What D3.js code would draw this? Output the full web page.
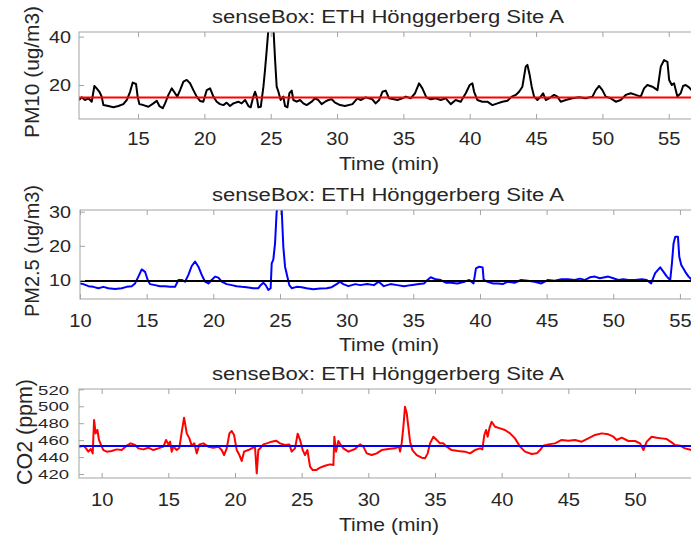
<!DOCTYPE html>
<html>
<head>
<meta charset="utf-8">
<script src="https://cdn.jsdelivr.net/npm/d3@7"></script>
<style>
  body { margin: 0; background: #fff; }
  text { font-family: "Liberation Sans", Arial, Helvetica, sans-serif; fill: #262626; }
</style>
</head>
<body>
<svg id="chart" width="691" height="539"></svg>
<script>
/* Values: [time (min), value] */
var pm10Series = [[10.55,13.8],[10.75,14.9],[11.0,13.8],[11.26,14.5],[11.51,13.1],[11.71,19.6],[11.88,18.6],[12.09,17.2],[12.26,15.2],[12.39,11.7],[12.76,11.3],[13.14,10.8],[13.52,11.3],[13.89,12.1],[14.15,13.8],[14.40,17.2],[14.60,21.0],[14.85,20.4],[14.97,15.2],[15.10,12.1],[15.40,11.7],[15.78,11.0],[16.16,12.4],[16.41,13.5],[16.61,11.3],[16.86,10.4],[17.04,12.4],[17.29,15.9],[17.54,18.6],[17.79,16.6],[17.96,15.2],[18.17,17.9],[18.42,21.4],[18.67,22.1],[18.92,20.7],[19.17,17.9],[19.42,15.2],[19.67,13.4],[19.92,13.1],[20.18,17.9],[20.43,18.6],[20.68,15.2],[20.93,13.1],[21.18,12.1],[21.43,11.7],[21.68,12.7],[21.93,11.3],[22.19,12.4],[22.56,13.1],[22.81,12.4],[23.07,13.8],[23.32,11.3],[23.49,10.8],[23.69,15.2],[23.82,17.2],[23.94,15.2],[24.07,10.8],[24.25,11.0],[24.45,19.3],[24.57,26.2],[24.70,34.5],[24.82,42.7],[25.0,48.0],[25.20,44.0],[25.33,30.3],[25.45,19.3],[25.58,17.2],[25.75,13.8],[25.95,15.2],[26.08,11.3],[26.26,10.8],[26.41,16.6],[26.58,17.7],[26.71,13.8],[26.96,13.1],[27.21,13.8],[27.46,12.4],[27.71,11.7],[28.09,13.1],[28.34,14.5],[28.59,13.8],[28.84,12.1],[29.10,13.1],[29.35,13.8],[29.60,14.1],[29.85,12.7],[30.23,11.7],[30.60,11.3],[31.16,12.1],[31.53,14.5],[31.78,13.8],[32.16,14.9],[32.66,14.1],[32.91,12.4],[33.17,13.8],[33.42,17.2],[33.67,17.7],[33.92,14.5],[34.30,14.1],[34.55,13.8],[34.92,14.5],[35.18,15.2],[35.55,14.5],[35.88,16.6],[36.18,20.7],[36.43,18.6],[36.73,14.9],[37.06,14.1],[37.44,14.5],[37.81,13.8],[38.19,14.5],[38.57,12.1],[38.94,13.8],[39.32,13.1],[39.70,16.6],[40.00,20.0],[40.20,20.7],[40.33,17.2],[40.58,13.8],[40.95,13.1],[41.33,13.1],[41.71,11.7],[42.09,12.4],[42.46,13.1],[42.84,13.5],[43.17,15.2],[43.47,15.9],[43.72,17.2],[43.97,19.3],[44.22,27.6],[44.35,28.3],[44.52,24.1],[44.67,19.3],[44.85,15.2],[45.10,13.8],[45.35,15.2],[45.53,16.6],[45.73,13.8],[45.98,14.5],[46.36,15.9],[46.61,15.2],[46.86,13.1],[47.24,13.8],[47.74,14.5],[48.24,14.9],[48.74,14.5],[49.25,15.2],[49.50,17.9],[49.75,19.6],[50.00,17.9],[50.25,15.2],[50.63,14.5],[51.01,13.1],[51.38,13.8],[51.76,15.9],[52.14,16.6],[52.51,15.9],[52.89,15.2],[53.14,18.6],[53.39,20.0],[53.77,19.3],[54.15,17.9],[54.40,27.6],[54.65,30.3],[54.90,29.6],[55.03,22.1],[55.23,20.0],[55.40,20.7],[55.65,15.2],[55.90,16.6],[56.08,19.6],[56.28,20.0],[56.53,19.0],[57.10,15.5]];
var pm10Mean = 14.8;

var pm25Series = [[10.0,9.0],[10.25,8.8],[10.63,8.2],[11.0,8.0],[11.38,7.6],[11.75,8.0],[12.13,7.6],[12.63,7.4],[13.13,7.6],[13.5,8.0],[13.88,8.2],[14.13,9.0],[14.38,11.0],[14.63,13.1],[14.88,12.4],[15.08,10.0],[15.25,8.8],[15.63,8.5],[16.0,8.2],[16.38,8.2],[16.75,8.0],[17.13,8.0],[17.38,10.0],[17.63,10.0],[17.88,9.5],[18.13,11.5],[18.38,14.1],[18.63,15.4],[18.88,13.9],[19.13,11.5],[19.38,9.5],[19.63,9.0],[19.88,10.0],[20.13,11.0],[20.38,10.7],[20.63,9.5],[21.0,8.8],[21.38,8.5],[21.75,8.2],[22.13,8.0],[22.5,7.9],[23.0,7.6],[23.38,7.6],[23.55,8.5],[23.75,9.2],[23.93,8.5],[24.13,7.1],[24.3,7.6],[24.38,14.9],[24.5,16.0],[24.63,20.7],[24.75,30.0],[24.95,33.0],[25.13,30.5],[25.25,19.8],[25.38,13.9],[25.55,11.0],[25.7,8.5],[25.88,7.6],[26.25,8.0],[26.63,7.9],[27.0,7.6],[27.5,7.3],[28.0,7.5],[28.5,7.6],[28.88,7.9],[29.25,8.8],[29.5,9.5],[29.75,8.8],[30.13,8.2],[30.65,8.8],[31.03,8.5],[31.53,8.8],[32.04,8.5],[32.41,9.5],[32.79,8.2],[33.29,8.8],[33.79,8.5],[34.3,8.2],[34.8,8.5],[35.43,8.8],[35.8,9.0],[36.06,10.0],[36.31,10.8],[36.68,10.2],[37.06,10.0],[37.44,9.2],[37.81,9.2],[38.32,9.0],[38.82,9.5],[39.2,10.0],[39.52,9.0],[39.7,13.4],[39.95,13.9],[40.2,13.7],[40.28,10.0],[40.58,9.5],[40.95,9.0],[41.33,9.0],[41.71,8.8],[42.09,9.5],[42.59,9.2],[43.09,10.0],[43.59,9.8],[44.1,9.5],[44.6,9.0],[45.1,10.0],[45.6,9.8],[46.11,10.2],[46.61,10.2],[47.11,10.0],[47.49,10.4],[47.86,10.0],[48.24,10.8],[48.62,11.0],[48.99,10.5],[49.37,10.8],[49.62,11.0],[50.0,10.5],[50.38,10.0],[50.75,10.2],[51.13,10.0],[51.63,10.0],[52.14,10.2],[52.51,10.0],[52.84,9.0],[53.14,12.0],[53.52,13.7],[53.77,12.4],[54.02,11.0],[54.27,10.0],[54.4,14.9],[54.52,20.7],[54.65,22.7],[54.85,22.7],[54.95,16.8],[55.1,14.4],[55.4,12.4],[55.65,11.0],[55.9,10.0],[56.4,9.8]];
var pm25Mean = 9.7;

var co2Series = [[8.30,452.3],[8.63,453.5],[8.83,450.3],[9.0,446.4],[9.18,449.5],[9.33,444.4],[9.43,483.8],[9.55,468.0],[9.68,472.0],[9.8,460.2],[9.95,454.3],[10.13,448.3],[10.38,446.4],[10.75,447.2],[11.13,449.1],[11.5,448.3],[11.88,453.5],[12.18,456.2],[12.5,454.3],[12.75,450.3],[13.13,449.1],[13.5,451.1],[13.88,448.3],[14.25,450.3],[14.63,452.3],[14.83,460.2],[15.0,455.0],[15.13,458.2],[15.25,446.4],[15.38,452.3],[15.63,448.3],[15.83,451.1],[16.0,469.2],[16.18,486.5],[16.38,468.0],[16.58,462.1],[16.75,453.5],[16.95,456.2],[17.13,444.4],[17.33,455.0],[17.63,456.2],[18.0,452.3],[18.38,451.1],[18.75,452.3],[19.0,448.3],[19.18,442.4],[19.38,450.3],[19.58,468.0],[19.75,470.8],[19.93,466.1],[20.13,448.3],[20.33,442.4],[20.5,435.4],[20.68,446.4],[21.0,448.3],[21.25,450.3],[21.5,452.3],[21.63,420.8],[21.75,448.3],[21.93,451.1],[22.13,455.0],[22.38,456.2],[22.75,458.2],[23.08,459.4],[23.38,456.2],[23.75,454.3],[24.08,455.0],[24.25,446.4],[24.5,450.3],[24.7,467.6],[24.88,460.2],[25.08,448.3],[25.25,442.4],[25.43,448.3],[25.63,428.7],[25.83,424.7],[26.08,424.7],[26.38,427.5],[26.75,429.8],[27.13,431.4],[27.38,430.6],[27.45,464.1],[27.58,446.4],[27.75,459.0],[27.93,454.3],[28.13,450.3],[28.5,446.4],[29.0,449.5],[29.38,455.0],[29.63,452.3],[29.88,444.4],[30.25,442.4],[30.63,444.4],[31.0,448.3],[31.5,449.5],[32.0,450.3],[32.3,452.3],[32.38,446.4],[32.5,456.2],[32.63,475.9],[32.75,499.5],[32.88,491.7],[33.0,475.9],[33.13,458.2],[33.3,448.3],[33.63,442.4],[34.0,439.3],[34.25,438.5],[34.45,444.4],[34.63,456.2],[34.88,464.1],[35.13,460.2],[35.38,456.2],[35.63,456.2],[35.88,452.3],[36.25,448.3],[36.75,447.2],[37.25,446.4],[37.63,444.4],[38.0,448.3],[38.38,450.3],[38.55,449.1],[38.7,466.1],[38.83,472.0],[38.95,464.1],[39.08,473.9],[39.25,481.8],[39.5,475.9],[39.88,473.9],[40.25,472.0],[40.63,468.0],[41.0,462.1],[41.38,452.3],[41.75,446.4],[42.25,443.6],[42.63,444.4],[42.88,448.3],[43.13,453.5],[43.5,455.0],[44.0,456.2],[44.5,460.2],[45.0,459.4],[45.5,460.2],[46.0,458.2],[46.5,462.1],[47.0,466.1],[47.5,468.0],[48.0,466.9],[48.38,464.1],[48.63,460.2],[49.0,462.9],[49.5,459.0],[50.0,459.0],[50.38,456.2],[50.63,448.3],[50.88,458.2],[51.25,464.1],[51.63,462.9],[52.0,462.1],[52.38,461.3],[52.75,457.4],[53.0,454.3],[53.38,453.5],[53.75,450.3],[54.25,448.3],[54.8,446.5]];
var co2Mean = 453.1;

// tick values
var pm10XTicks = [15, 20, 25, 30, 35, 40, 45, 50, 55];
var pm10YTicks = [20, 40];
var pm25XTicks = [10, 15, 20, 25, 30, 35, 40, 45, 50, 55];
var pm25YTicks = [10, 20, 30];
var co2XTicks = [10, 15, 20, 25, 30, 35, 40, 45, 50];
var co2YTicks = [420, 440, 460, 480, 500, 520];

var titleText = "senseBox: ETH Hönggerberg Site A";
var xLabelText = "Time (min)";

var axisGray = "#a3a3a3";
var svg = d3.select("#chart");
var defs = svg.append("defs");

/* Draw one MATLAB-style panel */
function drawPanel(p) {
    var x = d3.scaleLinear().domain(p.xDomain).range([p.left, p.right]);
    var y = d3.scaleLinear().domain(p.yDomain).range([p.bottom, p.top]);
    var g = svg.append("g").attr("class", "panel");

    defs.append("clipPath").attr("id", p.id + "-clip")
        .append("rect")
        .attr("x", p.left).attr("y", p.top)
        .attr("width", p.right - p.left).attr("height", p.bottom - p.top);

    // data line + mean line
    var plot = g.append("g").attr("clip-path", "url(#" + p.id + "-clip)");
    var line = d3.line().x(d => x(d[0])).y(d => y(d[1]));
    plot.append("path")
        .datum(p.series)
        .attr("d", line)
        .attr("fill", "none")
        .attr("stroke", p.color)
        .attr("stroke-width", 2)
        .attr("stroke-linejoin", "round");
    plot.append("line")
        .attr("x1", p.left).attr("x2", p.right)
        .attr("y1", y(p.mean)).attr("y2", y(p.mean))
        .attr("stroke", p.meanColor)
        .attr("stroke-width", 2);

    // box
    g.append("rect")
        .attr("x", p.left).attr("y", p.top)
        .attr("width", p.right - p.left).attr("height", p.bottom - p.top)
        .attr("fill", "none").attr("stroke", axisGray);

    // bottom axis, ticks inside
    var xb = g.append("g").attr("transform", "translate(0," + p.bottom + ")")
        .call(d3.axisBottom(x).tickValues(p.xTicks).tickSize(-5).tickSizeOuter(0));
    xb.attr("font-size", null).attr("font-family", null);
    xb.select(".domain").remove();
    xb.selectAll("line").attr("stroke", axisGray);
    xb.selectAll("text")
        .attr("y", p.xTickBase).attr("dy", null)
        .attr("fill", null)
        .style("font-size", "18.5px")
        .attr("textLength", d => String(d).length * 11.2)
        .attr("lengthAdjust", "spacingAndGlyphs");

    // top axis ticks
    var xt = g.append("g").attr("transform", "translate(0," + p.top + ")")
        .call(d3.axisTop(x).tickValues(p.xTicks).tickSize(-5).tickSizeOuter(0).tickFormat(""));
    xt.select(".domain").remove();
    xt.selectAll("line").attr("stroke", axisGray);

    // left axis
    var ya = g.append("g").attr("transform", "translate(" + p.left + ",0)")
        .call(d3.axisLeft(y).tickValues(p.yTicks).tickSize(-5).tickSizeOuter(0));
    ya.attr("font-size", null).attr("font-family", null);
    ya.select(".domain").remove();
    ya.selectAll("line").attr("stroke", axisGray);
    ya.selectAll("text")
        .attr("x", -p.yTickGap).attr("dy", "0.36em")
        .attr("fill", null)
        .style("font-size", p.yTickSize + "px")
        .attr("textLength", d => String(d).length * p.yTickDigit)
        .attr("lengthAdjust", "spacingAndGlyphs");

    // title
    g.append("text")
        .attr("x", 388).attr("y", p.titleBase)
        .attr("text-anchor", "middle")
        .style("font-size", "17.5px")
        .attr("textLength", 352).attr("lengthAdjust", "spacingAndGlyphs")
        .text(titleText);

    // x label
    g.append("text")
        .attr("x", 389).attr("y", p.xLabelBase)
        .attr("text-anchor", "middle")
        .style("font-size", "18.5px")
        .attr("textLength", 100).attr("lengthAdjust", "spacingAndGlyphs")
        .text(xLabelText);

    // y label
    g.append("text")
        .attr("transform", "translate(" + p.yLabelX + "," + p.yLabelY + ") rotate(-90)")
        .attr("text-anchor", "middle")
        .style("font-size", p.yLabelSize + "px")
        .attr("textLength", p.yLabelLen).attr("lengthAdjust", "spacingAndGlyphs")
        .text(p.yLabel);
}

drawPanel({
    id: "pm10", series: pm10Series, mean: pm10Mean, color: "#000000", meanColor: "#ff0000",
    xDomain: [10.55, 57.13], yDomain: [5.95, 41.9],
    left: 79, right: 697, top: 32, bottom: 119,
    xTicks: pm10XTicks, yTicks: pm10YTicks,
    xTickBase: 26, yTickGap: 8, yTickSize: 16, yTickDigit: 11,
    titleBase: 23, xLabelBase: 170,
    yLabel: "PM10 (ug/m3)", yLabelX: 39, yLabelY: 72, yLabelSize: 20, yLabelLen: 132
});

drawPanel({
    id: "pm25", series: pm25Series, mean: pm25Mean, color: "#0000ff", meanColor: "#000000",
    xDomain: [10, 56.28], yDomain: [4.44, 30.5],
    left: 80, right: 697, top: 210, bottom: 299,
    xTicks: pm25XTicks, yTicks: pm25YTicks,
    xTickBase: 27.5, yTickGap: 9, yTickSize: 16, yTickDigit: 11,
    titleBase: 201, xLabelBase: 351,
    yLabel: "PM2.5 (ug/m3)", yLabelX: 39, yLabelY: 251, yLabelSize: 20, yLabelLen: 132
});

drawPanel({
    id: "co2", series: co2Series, mean: co2Mean, color: "#ff0000", meanColor: "#0000ff",
    xDomain: [8.3, 54.65], yDomain: [415.3, 520.4],
    left: 79, right: 697, top: 389, bottom: 478,
    xTicks: co2XTicks, yTicks: co2YTicks,
    xTickBase: 28, yTickGap: 10, yTickSize: 13, yTickDigit: 10.3,
    titleBase: 380, xLabelBase: 531,
    yLabel: "CO2 (ppm)", yLabelX: 32, yLabelY: 432, yLabelSize: 22, yLabelLen: 106
});
</script>
</body>
</html>
